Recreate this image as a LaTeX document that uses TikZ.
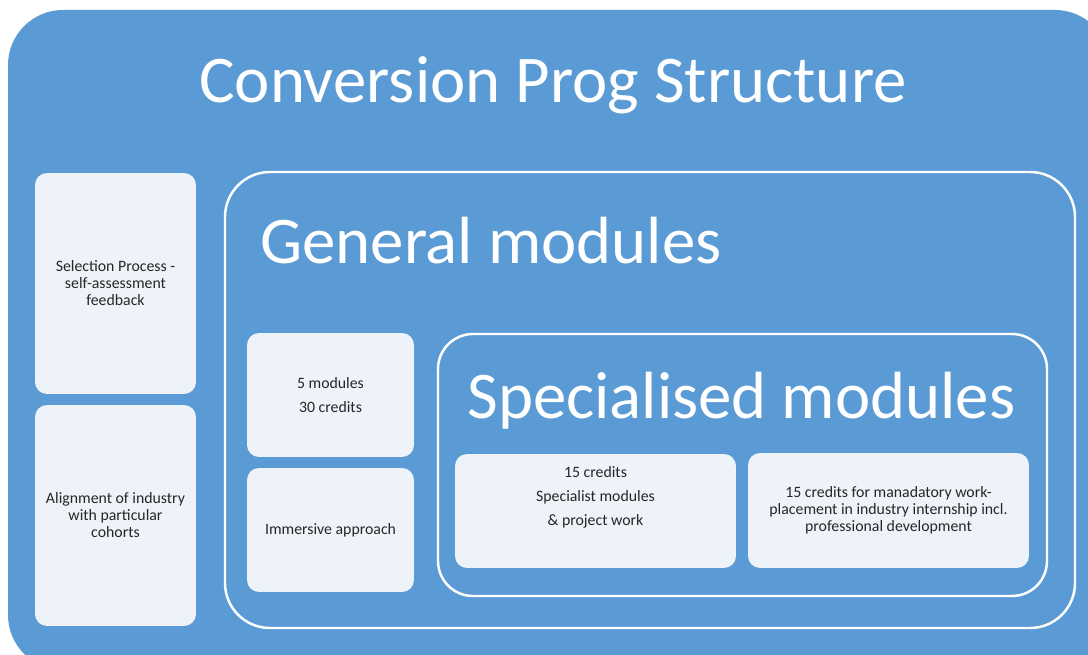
\documentclass[tikz,border=0pt]{standalone}
\usepackage{fontspec}
\setmainfont{Carlito}
\usepackage{tikz}
\usetikzlibrary{positioning}
\definecolor{progblue}{HTML}{5B9BD5}
\definecolor{boxfill}{HTML}{EEF3FA}
\tikzset{
  lightbox/.style={fill=boxfill, draw=none, rounded corners=0.24cm, inner sep=0pt,
    align=center, font=\fontsize{9}{9.7}\selectfont, text=black!85},
  frame/.style={draw=white, line width=1.4pt, fill=none},
  heading/.style={text=white, anchor=base west, inner sep=0pt},
}
\begin{document}
\begin{tikzpicture}[x=0.02cm,y=-0.02cm]
	\clip (0,0) rectangle (1088,655);
	% outer panel
	\fill[progblue, rounded corners=1.1cm] (8,10) rectangle (1110,670);
	\node[heading, anchor=base, font=\fontsize{38}{44}\selectfont] (title) at (553,103) {Conversion Prog Structure};
	% left column
	\node[lightbox, minimum width=3.22cm, minimum height=4.42cm] (select) at (115.5,283.5) {Selection Process -\\self-assessment\\feedback};
	\node[lightbox, minimum width=3.22cm, minimum height=4.42cm] (align) at (115.5,515.5) {Alignment of industry\\with particular\\cohorts};
	% general modules
	\draw[frame, rounded corners=0.9cm] (225,172) rectangle (1075,628);
	\node[heading, font=\fontsize{38}{44}\selectfont] (general) at (260,263) {General modules};
	\node[lightbox, minimum width=3.34cm, minimum height=2.48cm] (five) at (330.5,395) {5 modules\\[4pt]30 credits};
	\node[lightbox, minimum width=3.34cm, minimum height=2.48cm] (immerse) at (330.5,530) {Immersive approach};
	% specialised modules
	\draw[frame, rounded corners=0.7cm] (438,334) rectangle (1047,596);
	\node[heading, font=\fontsize{38}{44}\selectfont] (special) at (467,418) {Specialised modules};
	\node[lightbox, minimum width=5.62cm, minimum height=2.28cm] (project) at (595.5,511) {};
	\node[align=center, font=\fontsize{9}{13.6}\selectfont, text=black!85, inner sep=0pt] (projtext) at (595.5,497) {15 credits\\Specialist modules\\\& project work};
	\node[lightbox, minimum width=5.62cm, minimum height=2.3cm] (place) at (888.5,510.5) {15 credits for manadatory work-\\placement in industry internship incl.\\professional development};
\end{tikzpicture}
\end{document}
